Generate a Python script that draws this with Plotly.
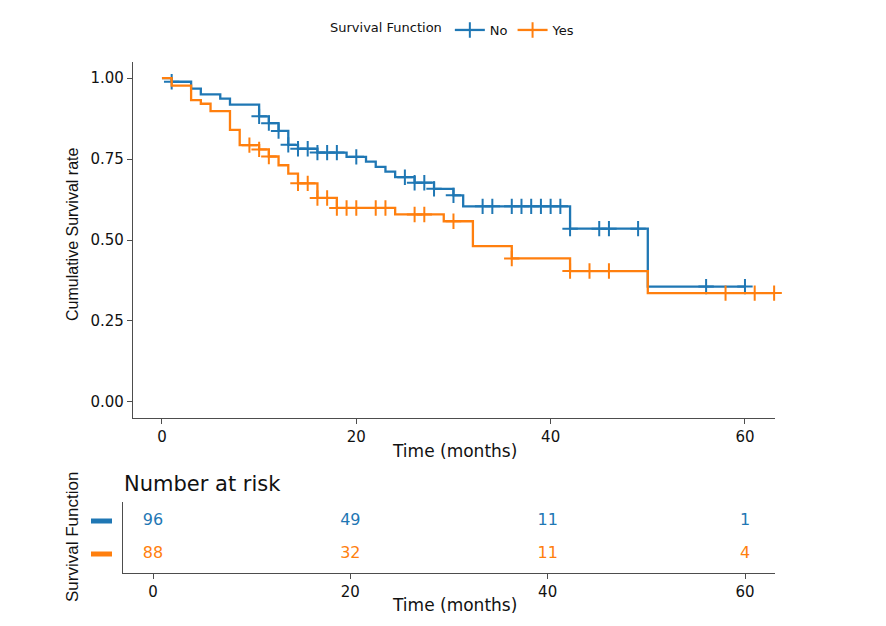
import numpy as np
import plotly.graph_objects as go

# ---- data ----
groups = ["No", "Yes"]
colors = ["#1f77b4", "#ff7f0e"]

no_times = [0, 1, 3, 4, 6, 7, 10, 11, 12, 13, 14, 16, 19, 21, 22, 23, 24, 26, 28, 30, 31, 42, 50]
no_surv = [1.0, 0.989, 0.968, 0.950, 0.937, 0.918, 0.882, 0.861, 0.837, 0.794, 0.782, 0.770,
           0.757, 0.742, 0.726, 0.711, 0.694, 0.677, 0.658, 0.638, 0.604, 0.535, 0.356]
no_end = 60
no_censor = [1, 10, 11, 12, 13, 14, 15, 16, 17, 18, 20, 25, 26, 27, 28, 30, 33, 34, 36, 37,
             38, 39, 40, 41, 42, 45, 46, 49, 56, 60]

yes_times = [0, 1, 3, 4, 5, 7, 8, 10, 11, 12, 13, 14, 16, 18, 24, 29, 32, 36, 42, 50]
yes_surv = [1.0, 0.977, 0.932, 0.921, 0.898, 0.840, 0.793, 0.780, 0.758, 0.731, 0.705, 0.675,
            0.630, 0.599, 0.579, 0.558, 0.481, 0.443, 0.404, 0.336]
yes_end = 63
yes_censor = [9, 10, 11, 14, 15, 16, 17, 18, 19, 20, 22, 23, 26, 27, 30, 36, 42, 44, 46, 58, 61, 63]

risk_times = [0, 20, 40, 60]
risk_no = [96, 49, 11, 1]
risk_yes = [88, 32, 11, 4]

y_ticks = [0, 0.25, 0.5, 0.75, 1.0]
x_ticks = [0, 20, 40, 60]

# ---- build ----
H_FONT = "DejaVu Sans"
V_FONT = "Liberation Sans, Arial, sans-serif"
TXT = "#111111"
AX = "#4d4d4d"

fig = go.Figure()

curves = [
    (no_times, no_surv, no_end, no_censor),
    (yes_times, yes_surv, yes_end, yes_censor),
]
for (t, s, end, cens), name, col in zip(curves, groups, colors):
    t = np.array(t, dtype=float)
    s = np.array(s, dtype=float)
    xs = list(t) + [end]
    ys = list(s) + [s[-1]]
    fig.add_trace(go.Scatter(x=xs, y=ys, mode="lines", line=dict(color=col, width=2.3, shape="hv"),
                             showlegend=False, hoverinfo="skip", xaxis="x", yaxis="y"))
    c = np.array(cens, dtype=float)
    idx = np.searchsorted(t, c, side="right") - 1
    fig.add_trace(go.Scatter(x=c, y=s[idx], mode="markers",
                             marker=dict(symbol="cross-thin", size=11, line=dict(color=col, width=2)),
                             showlegend=False, cliponaxis=False, xaxis="x", yaxis="y"))

# legend entries
for name, col in zip(groups, colors):
    fig.add_trace(go.Scatter(x=[None], y=[None], mode="lines+markers", name=name,
                             line=dict(color=col, width=2.3),
                             marker=dict(symbol="cross-thin", size=11, line=dict(color=col, width=2)),
                             xaxis="x", yaxis="y"))

# risk table
row_y = {"No": 2, "Yes": 1}
for name, col, vals in zip(groups, colors, [risk_no, risk_yes]):
    fig.add_trace(go.Scatter(x=risk_times, y=[row_y[name]] * len(risk_times), mode="text",
                             text=[str(v) for v in vals],
                             textfont=dict(family=H_FONT, size=16, color=col),
                             showlegend=False, xaxis="x2", yaxis="y2", cliponaxis=False))
    fig.add_shape(type="line", xref="paper", yref="y2", x0=91 / 886, x1=112 / 886,
                  y0=row_y[name], y1=row_y[name], line=dict(color=col, width=5))

axis_common = dict(showline=True, linecolor=AX, linewidth=1.3, ticks="outside", ticklen=5,
                   tickcolor=AX, tickwidth=1.3, showgrid=False, zeroline=False,
                   tickfont=dict(family=H_FONT, size=15, color=TXT))

fig.update_layout(
    width=886, height=626,
    margin=dict(l=0, r=0, t=0, b=0),
    paper_bgcolor="white", plot_bgcolor="white",
    xaxis=dict(domain=[133 / 886, 775 / 886], range=[-2.98, 63.09], tickvals=x_ticks,
               anchor="y", **axis_common),
    yaxis=dict(domain=[1 - 418 / 626, 1 - 62 / 626], range=[-0.05, 1.05], tickvals=y_ticks,
               tickformat=".2f", anchor="x", **axis_common),
    xaxis2=dict(domain=[123 / 886, 775 / 886], range=[-3.04, 63.04], tickvals=x_ticks,
                anchor="y2", **axis_common),
    yaxis2=dict(domain=[1 - 573 / 626, 1 - 502 / 626], range=[0.424, 2.576], showline=True,
                linecolor=AX, linewidth=1.3, showgrid=False, zeroline=False, showticklabels=False,
                ticks="", anchor="x2"),
    legend=dict(orientation="h", x=454 / 886, xanchor="center", y=1 - 30 / 626, yanchor="middle",
                title=dict(text="Survival Function", side="left",
                           font=dict(family=H_FONT, size=13, color=TXT)),
                font=dict(family=H_FONT, size=13, color=TXT), itemwidth=30,
                bgcolor="rgba(0,0,0,0)"),
    showlegend=True,
)

annos = [
    dict(text="Time (months)", x=454 / 886, y=1 - 451 / 626, font=dict(family=H_FONT, size=17, color=TXT)),
    dict(text="Time (months)", x=454 / 886, y=1 - 605 / 626, font=dict(family=H_FONT, size=17, color=TXT)),
    dict(text="Cumulative Survival rate", x=72 / 886, y=1 - 234 / 626, textangle=-90,
         font=dict(family=V_FONT, size=16, color=TXT)),
    dict(text="Survival Function", x=72 / 886, y=1 - 537 / 626, textangle=-90,
         font=dict(family=V_FONT, size=17, color=TXT)),
    dict(text="Number at risk", x=122 / 886, y=1 - 484 / 626, xanchor="left",
         font=dict(family=H_FONT, size=21, color=TXT)),
]
for a in annos:
    a.setdefault("xanchor", "center")
    fig.add_annotation(xref="paper", yref="paper", yanchor="middle", showarrow=False, **a)

fig.write_html("out.html", config={"displayModeBar": False},
               post_script="document.body.style.margin='0px';document.body.style.overflow='hidden';")
